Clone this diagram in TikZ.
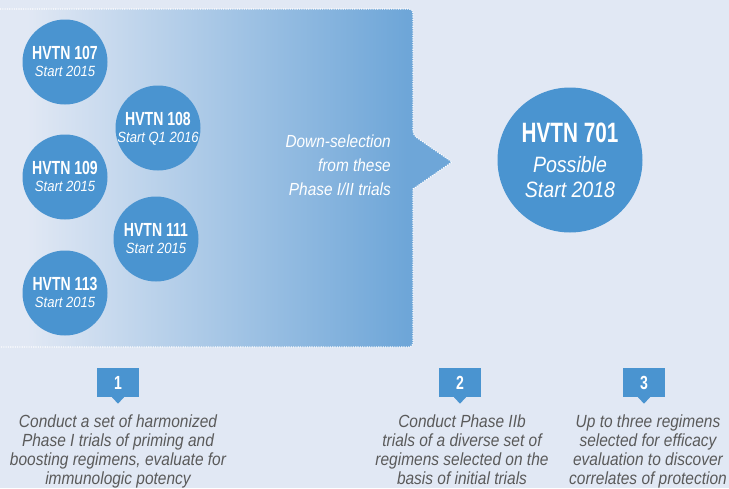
\documentclass[tikz,border=0pt]{standalone}
\usepackage{fontspec}
\usetikzlibrary{calc}
\newfontfamily\bcf[FakeStretch=0.74]{Liberation Sans}
\newfontfamily\icf[FakeStretch=0.88]{Liberation Sans}
\definecolor{bg}{HTML}{E1E8F4}
\definecolor{circ}{HTML}{4A94D0}
\definecolor{gradR}{HTML}{6EA6D8}
\definecolor{txt}{HTML}{5A5A5A}
\pgfdeclarehorizontalshading{fadeshade}{100bp}{color(0bp)=(bg); color(28bp)=(bg); color(70bp)=(gradR); color(100bp)=(gradR)}
\tikzset{
  trial/.style={circle, fill=circ, minimum size=85pt, inner sep=0pt},
  bigtrial/.style={circle, fill=circ, minimum size=145pt, inner sep=0pt},
  ttl/.style={text=white, inner sep=0pt, anchor=base, font=\bcf\bfseries\fontsize{19}{21}\selectfont},
  sub/.style={text=white, inner sep=0pt, anchor=base, font=\icf\itshape\fontsize{14.8}{17}\selectfont},
  numbox/.style={fill=circ, text=white, minimum width=42pt, minimum height=29pt, inner sep=0pt, font=\bcf\bfseries\fontsize{19}{21}\selectfont},
  desc/.style={text=txt, align=center, inner sep=0pt, anchor=base, font=\icf\itshape\fontsize{17.6}{19}\selectfont},
}
\begin{document}
\begin{tikzpicture}[x=1pt,y=-1pt]
\fill[bg] (0,0) rectangle (729,488);
\useasboundingbox (0,0) rectangle (729,488);
% gradient arrow panel
\shade[shading=fadeshade] (0,9) [rounded corners=4pt] -- (413,9) -- (413,135) [sharp corners] -- (452,162) -- (413,189) [rounded corners=4pt] -- (413,347) [sharp corners] -- (0,347) -- cycle;
\draw[white, line width=1.1pt, dash pattern=on 1.1pt off 1.2pt] (0,9) [rounded corners=4pt] -- (413,9) -- (413,135) [sharp corners] -- (452,162) -- (413,189) [rounded corners=4pt] -- (413,347) [sharp corners] -- (0,347);
% down-selection text
\node[text=white, align=right, inner sep=0pt, anchor=base east, font=\icf\itshape\fontsize{17.5}{24}\selectfont] (down) at (391,195) {Down-selection\\from these\\Phase I/II trials};
% small circles
\foreach \nm/\cx/\cy/\sb in {107/65/62/Start 2015, 108/158/128/Start Q1 2016, 109/65/177/Start 2015, 111/156/239/Start 2015, 113/65/293/Start 2015}{
  \node[trial] (c\nm) at (\cx,\cy) {};
  \node[ttl] (t\nm) at ($(c\nm.center)+(0,-3)$) {HVTN \nm};
  \node[sub] (s\nm) at ($(c\nm.center)+(0,14)$) {\sb};
}
% big circle
\node[bigtrial] (c701) at (570,160) {};
\node[ttl, font=\bcf\bfseries\fontsize{28}{30}\selectfont] (t701) at ($(c701.center)+(0,-18)$) {HVTN 701};
\node[sub, font=\icf\itshape\fontsize{22.2}{24}\selectfont] (p701) at ($(c701.center)+(0,12)$) {Possible};
\node[sub, font=\icf\itshape\fontsize{22.2}{24}\selectfont] (s701) at ($(c701.center)+(0,37)$) {Start 2018};
% number boxes
\foreach \k/\cx in {1/118, 2/460, 3/644}{
  \node[numbox] (n\k) at (\cx,382.5) {\k};
  \fill[circ] ($(n\k.south)+(-6.5,-0.5)$) -- ($(n\k.south)+(6.5,-0.5)$) -- ($(n\k.south)+(0,6.5)$) -- cycle;
}
% descriptions
\node[desc] (d1) at (118,484) {Conduct a set of harmonized\\Phase I trials of priming and\\boosting regimens, evaluate for\\immunologic potency};
\node[desc] (d2) at (462,484) {Conduct Phase IIb\\trials of a diverse set of\\regimens selected on the\\basis of initial trials};
\node[desc] (d3) at (648,484) {Up to three regimens\\selected for efficacy\\evaluation to discover\\correlates of protection};
\end{tikzpicture}
\end{document}
